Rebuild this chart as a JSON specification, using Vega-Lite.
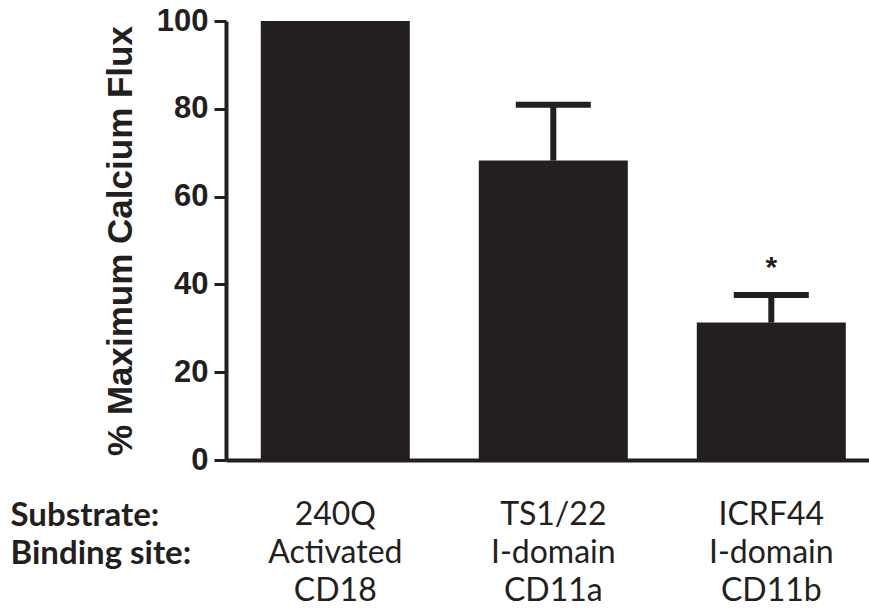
{
  "$schema": "https://vega.github.io/schema/vega-lite/v6.json",
  "autosize": "none",
  "width": 643,
  "height": 439,
  "padding": {"left": 226, "top": 21, "right": 0, "bottom": 151},
  "background": "white",
  "config": {"view": {"stroke": null}},
  "data": {
    "values": [
      {"cat": "240Q|Activated|CD18", "value": 100, "upper": null, "sig": null, "sigY": null},
      {"cat": "TS1/22|I-domain|CD11a", "value": 68.2, "upper": 80.9, "sig": null, "sigY": null},
      {"cat": "ICRF44|I-domain|CD11b", "value": 31.3, "upper": 37.6, "sig": "*", "sigY": 45.1}
    ]
  },
  "encoding": {
    "x": {
      "field": "cat",
      "type": "nominal",
      "sort": null,
      "scale": {"paddingInner": 0.3165, "paddingOuter": 0.133, "align": 0.6},
      "axis": {
        "title": ["Substrate:", "Binding site:"],
        "titleFont": "Lato",
        "titleFontWeight": "bold",
        "titleFontSize": 33,
        "titleColor": "#231f20",
        "titleAlign": "left",
        "titleBaseline": "top",
        "titleAnchor": "start",
        "titleX": -216,
        "titleY": 39,
        "titleLineHeight": 38,
        "labelExpr": "split(datum.label, '|')",
        "labelAngle": 0,
        "labelFont": "Lato",
        "labelFontSize": 32,
        "labelColor": "#231f20",
        "labelLineHeight": 38,
        "labelPadding": 39,
        "labelBaseline": "top",
        "ticks": false,
        "domainColor": "#231f20",
        "domainWidth": 4
      }
    }
  },
  "layer": [
    {
      "mark": {"type": "bar", "color": "#231f20"},
      "encoding": {
        "y": {
          "field": "value",
          "type": "quantitative",
          "scale": {"domain": [0, 100], "nice": false},
          "axis": {
            "title": "% Maximum Calcium Flux",
            "titleFont": "Liberation Sans",
            "titleFontWeight": "bold",
            "titleFontSize": 35,
            "titleColor": "#231f20",
            "titlePadding": 18,
            "values": [0, 20, 40, 60, 80, 100],
            "grid": false,
            "labelFont": "Liberation Sans",
            "labelFontWeight": "bold",
            "labelFontSize": 31,
            "labelColor": "#231f20",
            "labelPadding": 6,
            "tickSize": 12,
            "tickWidth": 3,
            "tickColor": "#231f20",
            "domainColor": "#231f20",
            "domainWidth": 4
          }
        }
      }
    },
    {
      "mark": {"type": "rule", "color": "#231f20", "strokeWidth": 6},
      "encoding": {
        "y": {"field": "value", "type": "quantitative"},
        "y2": {"field": "upper"}
      }
    },
    {
      "mark": {"type": "tick", "color": "#231f20", "opacity": 1, "size": 75, "thickness": 6},
      "encoding": {
        "y": {"field": "upper", "type": "quantitative"}
      }
    },
    {
      "mark": {"type": "text", "font": "Liberation Sans", "fontSize": 30, "fontWeight": "bold", "color": "#231f20", "baseline": "middle", "dy": 6},
      "encoding": {
        "y": {"field": "sigY", "type": "quantitative"},
        "text": {"field": "sig"}
      }
    }
  ]
}
